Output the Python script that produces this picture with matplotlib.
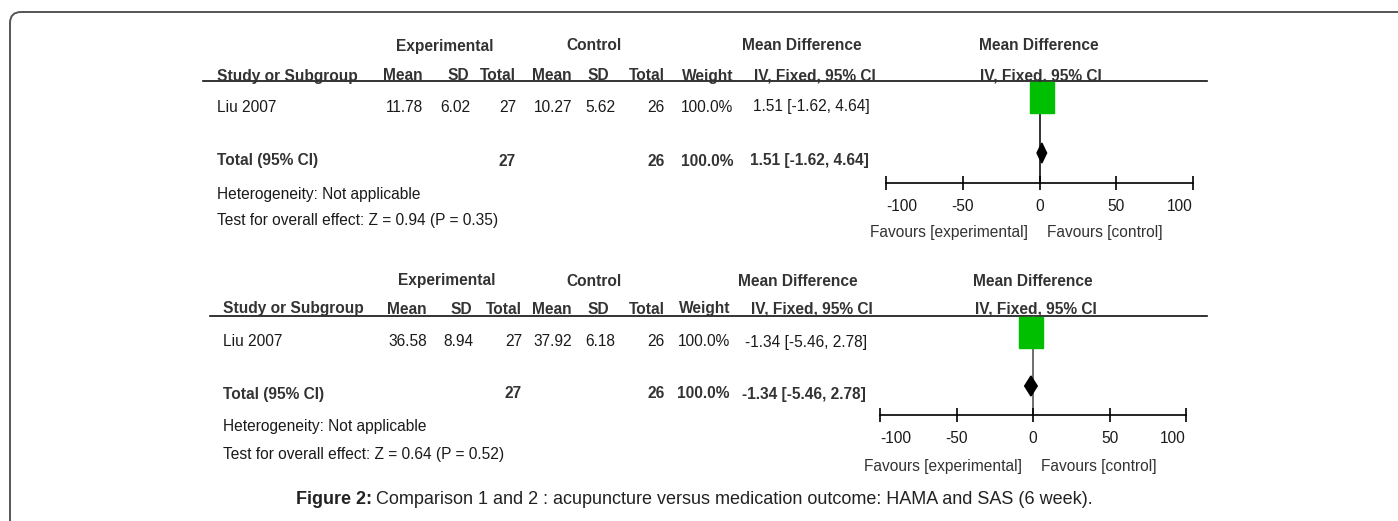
import matplotlib
matplotlib.use('Agg')
import matplotlib.pyplot as plt
from matplotlib.patches import Rectangle, Polygon, FancyBboxPatch

plt.rcParams['font.family'] = ['Liberation Sans', 'DejaVu Sans']
plt.rcParams['axes.unicode_minus'] = False

# data (two comparisons: HAMA, SAS)
studies = ['Liu 2007', 'Liu 2007']
exp_mean = [11.78, 36.58]
exp_sd = [6.02, 8.94]
exp_n = [27, 27]
ctrl_mean = [10.27, 37.92]
ctrl_sd = [5.62, 6.18]
ctrl_n = [26, 26]
weights = [100.0, 100.0]
md = [1.51, -1.34]
ci_lo = [-1.62, -5.46]
ci_hi = [4.64, 2.78]
z_vals = [0.94, 0.64]
p_vals = [0.35, 0.52]
ticks = [-100, -50, 0, 50, 100]

W, H = 1398, 521
FS = 11.2
HEAD = '#333333'
TXT = '#1a1a1a'

# layout per panel (pixel positions)
panels = [
    dict(rows=[46, 76, 107, 161, 194, 220], line_y=81, line_x0=203,
         study=217, cols=[423, 469, 516, 572, 609, 665, 733], val_sd2=615,
         ci_x=753, ci_bx=750, iv_c=815, md_c=802, exp_c=445, ctl_c=594,
         ax_x0=886, ax_x1=1193, ax_y=183, fav_y=233, vcol='#111111',
         md2_c=1039, iv2_c=1041),
    dict(rows=[281, 309, 342, 394, 426, 454], line_y=316, line_x0=210,
         study=223, cols=[427, 472, 522, 572, 609, 665, 730], val_sd2=615,
         ci_x=745, ci_bx=742, iv_c=812, md_c=798, exp_c=447, ctl_c=594,
         ax_x0=880, ax_x1=1186, ax_y=415, fav_y=466, vcol='#555555',
         md2_c=1033, iv2_c=1036),
]


def draw_panel(fig, ax0, i, L):
    '''
    Objective: To draw one forest plot block (table + plot)
    Input Parameters: fig, ax0 - figure and overlay axes, i - index, L - layout
    Return Value: None
    '''
    r = L['rows']
    c = L['cols']
    t = lambda x, y, s, **kw: ax0.text(x, y, s, fontsize=FS, va='center', **kw)
    # top headers
    t(L['exp_c'], r[0], 'Experimental', ha='center', weight='bold', color=HEAD)
    t(L['ctl_c'], r[0], 'Control', ha='center', weight='bold', color=HEAD)
    t(L['md_c'], r[0], 'Mean Difference', ha='center', weight='bold', color=HEAD)
    t(L['md2_c'], r[0], 'Mean Difference', ha='center', weight='bold', color=HEAD)
    # column headers
    t(L['study'], r[1], 'Study or Subgroup', ha='left', weight='bold', color=HEAD)
    heads = ['Mean', 'SD', 'Total', 'Mean', 'SD', 'Total', 'Weight']
    for x, h in zip(c, heads):
        t(x, r[1], h, ha='right', weight='bold', color=HEAD)
    t(L['iv_c'], r[1], 'IV, Fixed, 95% CI', ha='center', weight='bold', color=HEAD)
    t(L['iv2_c'], r[1], 'IV, Fixed, 95% CI', ha='center', weight='bold', color=HEAD)
    ax0.plot([L['line_x0'], 1207], [L['line_y'], L['line_y']], color='#111111', lw=1.2)
    # study row
    ci_txt = '%.2f [%.2f, %.2f]' % (md[i], ci_lo[i], ci_hi[i])
    vals = ['%.2f' % exp_mean[i], '%.2f' % exp_sd[i], str(exp_n[i]),
            '%.2f' % ctrl_mean[i], '%.2f' % ctrl_sd[i], str(ctrl_n[i]),
            '%.1f%%' % weights[i]]
    xs = list(c)
    xs[1] = xs[1] + 1
    xs[4] = L['val_sd2']
    t(L['study'], r[2], studies[i], ha='left', color=TXT)
    for x, v in zip(xs, vals):
        t(x, r[2], v, ha='right', color=TXT)
    t(L['ci_x'], r[2], ci_txt, ha='left', color=TXT)
    # total row
    t(L['study'], r[3], 'Total (95% CI)', ha='left', weight='bold', color=HEAD)
    t(c[2], r[3], str(exp_n[i]), ha='right', weight='bold', color=HEAD)
    t(c[5], r[3], str(ctrl_n[i]), ha='right', weight='bold', color=HEAD)
    t(c[6], r[3], '%.1f%%' % weights[i], ha='right', weight='bold', color=HEAD)
    t(L['ci_bx'], r[3], ci_txt, ha='left', weight='bold', color=HEAD)
    t(L['study'], r[4], 'Heterogeneity: Not applicable', ha='left', color=TXT)
    t(L['study'], r[5], 'Test for overall effect: Z = %.2f (P = %.2f)' % (z_vals[i], p_vals[i]),
      ha='left', color=TXT)

    # forest plot axes (x in mean difference units, y in pixels)
    x0, x1, ytop, ybot = L['ax_x0'], L['ax_x1'], L['line_y'], L['ax_y']
    ax = fig.add_axes([x0 / W, 1 - ybot / H, (x1 - x0) / W, (ybot - ytop) / H])
    ax.set_xlim(ticks[0], ticks[-1])
    ax.set_ylim(ybot, ytop)
    ax.patch.set_alpha(0)
    for s in ['top', 'left', 'right']:
        ax.spines[s].set_visible(False)
    ax.spines['bottom'].set_linewidth(1.2)
    ax.set_yticks([])
    ax.set_xticks(ticks)
    ax.set_xticklabels([str(v) for v in ticks])
    ax.tick_params(axis='x', direction='inout', length=10, width=1.2, pad=6.5,
                   labelsize=FS, labelcolor=TXT)
    labs = ax.get_xticklabels()
    labs[0].set_ha('left')
    labs[-1].set_ha('right')
    ax.axvline(0, color=L['vcol'], lw=1.2, zorder=1)
    # study box
    bw, bh = 15.6, 31
    ax.add_patch(Rectangle((md[i] - bw / 2, ytop + 1), bw, bh, color='#00bf00',
                           zorder=3, clip_on=False))
    # pooled diamond
    yc, hh = r[3] - 8, 10
    ax.add_patch(Polygon([(ci_lo[i], yc), (md[i], yc - hh), (ci_hi[i], yc), (md[i], yc + hh)],
                         closed=True, color='black', zorder=3))
    zx = L['md2_c']
    ax0.text(zx - 11, L['fav_y'], 'Favours [experimental]', ha='right',
             va='center', fontsize=FS, color='#333333')
    ax0.text(zx + 8, L['fav_y'], 'Favours [control]', ha='left',
             va='center', fontsize=FS, color='#333333')


def main():
    fig = plt.figure(figsize=(W / 100, H / 100), dpi=100)
    ax0 = fig.add_axes([0, 0, 1, 1])
    ax0.set_xlim(0, W)
    ax0.set_ylim(H, 0)
    ax0.axis('off')
    # rounded frame running off the page
    ax0.add_patch(FancyBboxPatch((10, 12), 1500, 600, boxstyle='round,pad=0,rounding_size=11',
                                 fill=False, ec='#555555', lw=1.4, clip_on=False))
    for i, L in enumerate(panels):
        draw_panel(fig, ax0, i, L)
    cap1 = ax0.text(296, 499, 'Figure 2:', fontsize=13, weight='bold', ha='left',
                    va='center', color='#222222')
    fig.canvas.draw()
    bb = cap1.get_window_extent()
    ax0.text(296 + bb.width + 4, 499, 'Comparison 1 and 2 : acupuncture versus medication '
             'outcome: HAMA and SAS (6 week).', fontsize=13, ha='left', va='center',
             color='#222222')
    fig.savefig('out.png', dpi=100)


if __name__ == '__main__':
    main()
